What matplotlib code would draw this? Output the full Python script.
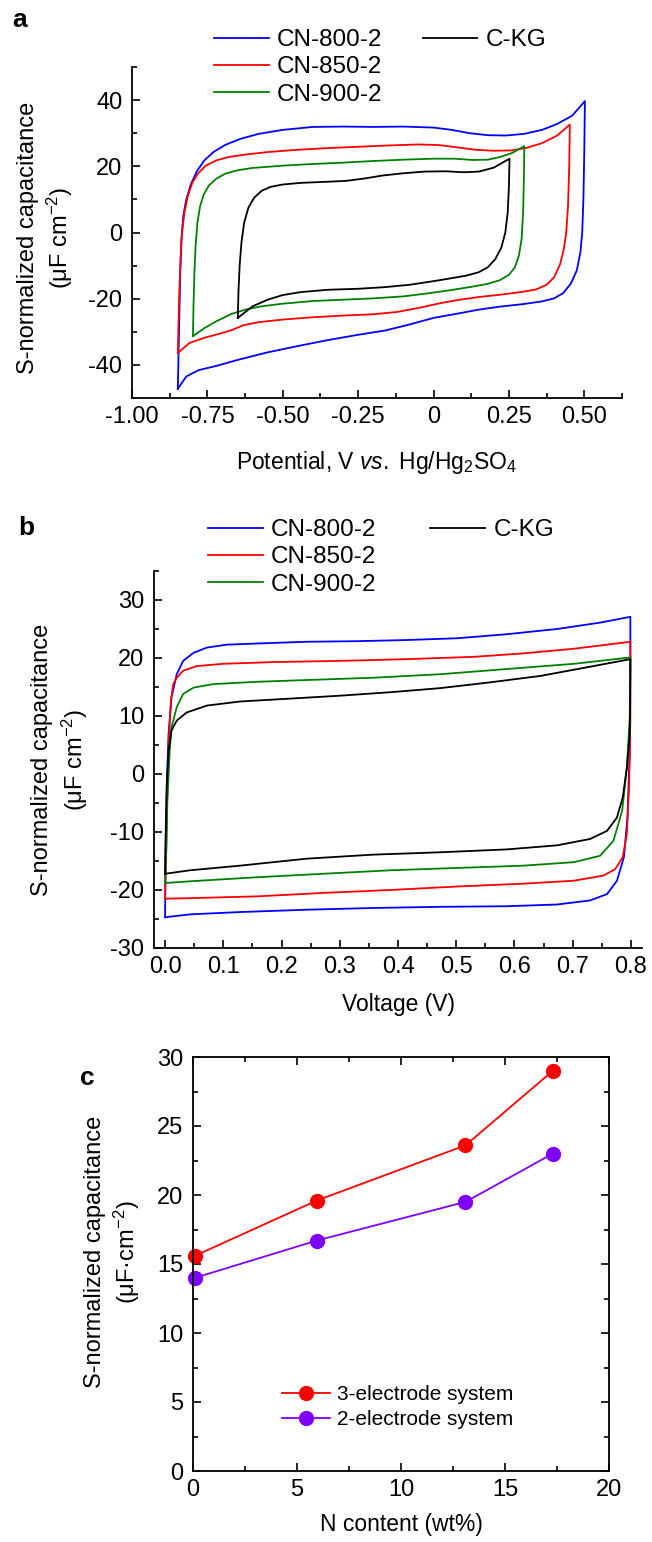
import numpy as np
import matplotlib
matplotlib.use("Agg")
import matplotlib.pyplot as plt
from matplotlib.lines import Line2D
from matplotlib.ticker import MultipleLocator, FixedLocator, FixedFormatter

plt.rcParams["font.family"] = ["Liberation Sans", "DejaVu Sans"]
plt.rcParams["mathtext.fontset"] = "custom"
plt.rcParams["mathtext.rm"] = "Liberation Sans"
plt.rcParams["mathtext.it"] = "Liberation Sans:italic"
plt.rcParams["axes.unicode_minus"] = False

# ---------------- panel a: CV, 3-electrode (V vs Hg/Hg2SO4) ----------------
a_blue_x = [-0.848, -0.846, -0.843, -0.840, -0.836, -0.830, -0.820, -0.805, -0.785, -0.760,
            -0.730, -0.690, -0.640, -0.580, -0.500, -0.400, -0.300, -0.200, -0.100, 0.000,
            0.060, 0.120, 0.180, 0.240, 0.300, 0.360, 0.410, 0.460, 0.502,
            0.500, 0.497, 0.493, 0.487, 0.475, 0.455, 0.430, 0.400, 0.360, 0.300, 0.220,
            0.150, 0.080, 0.000, -0.080, -0.160, -0.250, -0.350, -0.450, -0.550, -0.650,
            -0.720, -0.780, -0.820, -0.848]
a_blue_y = [-47.2, -38.0, -25.0, -12.0, -2.0, 5.0, 10.0, 14.5, 18.5, 21.8,
            24.3, 26.5, 28.3, 29.8, 31.0, 31.9, 32.0, 31.9, 32.0, 31.7,
            31.0, 30.0, 29.4, 29.3, 29.8, 31.0, 32.8, 35.3, 39.7,
            25.0, 10.0, 0.0, -6.0, -11.5, -15.5, -18.3, -19.9, -20.8, -21.6, -22.4,
            -23.3, -24.5, -25.8, -27.8, -29.6, -30.9, -32.5, -34.3, -36.2, -38.5,
            -40.3, -41.6, -43.5, -47.2]

a_red_x = [-0.848, -0.846, -0.843, -0.839, -0.834, -0.826, -0.815, -0.800, -0.780, -0.755,
           -0.720, -0.680, -0.620, -0.550, -0.450, -0.350, -0.250, -0.150, -0.050, 0.020,
           0.080, 0.140, 0.200, 0.260, 0.310, 0.360, 0.410, 0.452,
           0.450, 0.446, 0.440, 0.432, 0.420, 0.400, 0.375, 0.340, 0.290, 0.220, 0.150,
           0.080, 0.020, -0.050, -0.120, -0.200, -0.300, -0.400, -0.500, -0.580, -0.630,
           -0.670, -0.710, -0.760, -0.810, -0.848]
a_red_y = [-36.4, -28.0, -18.0, -8.0, 0.0, 6.0, 11.0, 15.0, 18.0, 20.2,
           21.8, 22.8, 23.6, 24.3, 25.0, 25.5, 25.9, 26.3, 26.6, 26.4,
           25.7, 25.0, 24.7, 24.8, 25.6, 27.0, 29.3, 32.6,
           20.0, 8.0, 0.0, -5.0, -9.5, -13.5, -15.8, -17.2, -18.0, -18.8, -19.5,
           -20.4, -21.4, -22.8, -24.0, -24.7, -25.1, -25.6, -26.3, -27.1, -28.0,
           -29.5, -30.6, -31.8, -33.4, -36.4]

a_green_x = [-0.798, -0.796, -0.793, -0.789, -0.783, -0.774, -0.762, -0.745, -0.720, -0.690,
             -0.650, -0.600, -0.500, -0.400, -0.300, -0.200, -0.100, 0.000, 0.070, 0.130,
             0.180, 0.220, 0.260, 0.301,
             0.300, 0.297, 0.292, 0.283, 0.270, 0.250, 0.220, 0.180, 0.120, 0.050, -0.020,
             -0.100, -0.200, -0.300, -0.400, -0.500, -0.570, -0.620, -0.670, -0.720, -0.760,
             -0.798]
a_green_y = [-31.3, -22.0, -12.0, -4.0, 3.0, 8.0, 11.5, 14.2, 16.3, 17.8,
             18.8, 19.5, 20.2, 20.7, 21.1, 21.6, 22.0, 22.3, 22.3, 21.9,
             22.0, 22.8, 24.0, 26.1,
             18.0, 6.0, -2.0, -7.0, -10.5, -12.8, -14.4, -15.5, -16.5, -17.5, -18.4,
             -19.3, -19.9, -20.3, -20.7, -21.5, -22.3, -23.2, -24.6, -26.8, -28.9,
             -31.3]

a_black_x = [-0.649, -0.647, -0.643, -0.637, -0.628, -0.614, -0.595, -0.570, -0.540, -0.500,
             -0.440, -0.360, -0.290, -0.230, -0.170, -0.100, -0.030, 0.040, 0.100, 0.150,
             0.200, 0.252,
             0.250, 0.246, 0.238, 0.225, 0.205, 0.180, 0.150, 0.110, 0.060, 0.000, -0.080,
             -0.160, -0.250, -0.350, -0.440, -0.500, -0.550, -0.600, -0.649]
a_black_y = [-25.8, -18.0, -10.0, -3.0, 3.0, 7.5, 10.5, 12.6, 13.8, 14.5,
             15.0, 15.3, 15.6, 16.3, 17.2, 17.9, 18.4, 18.5, 18.2, 18.4,
             19.6, 22.3,
             14.0, 6.0, 0.0, -4.5, -8.0, -10.5, -12.0, -13.0, -13.8, -14.7, -15.8,
             -16.5, -17.0, -17.3, -18.0, -18.9, -20.3, -22.3, -25.8]

# ---------------- panel b: CV, 2-electrode ----------------
b_blue_x = [0.000, 0.001, 0.003, 0.006, 0.011, 0.020, 0.031, 0.049, 0.072, 0.106, 0.158,
            0.243, 0.329, 0.415, 0.501, 0.587, 0.673, 0.747, 0.799,
            0.799, 0.798, 0.794, 0.788, 0.776, 0.759, 0.730, 0.673, 0.587, 0.472, 0.358,
            0.243, 0.129, 0.043, 0.000]
b_blue_y = [-24.7, -13.2, -1.7, 6.9, 13.2, 17.2, 19.5, 20.9, 21.8, 22.3, 22.5,
            22.8, 22.9, 23.1, 23.4, 24.1, 25.0, 26.1, 27.1,
            15.5, 4.0, -7.5, -14.3, -18.4, -20.7, -21.8, -22.5, -22.8, -22.9, -23.1,
            -23.4, -23.8, -24.2, -24.7]

b_red_x = [0.000, 0.002, 0.004, 0.007, 0.010, 0.014, 0.020, 0.031, 0.054, 0.100, 0.186,
           0.300, 0.415, 0.530, 0.616, 0.702, 0.759, 0.799,
           0.799, 0.797, 0.793, 0.786, 0.773, 0.753, 0.702, 0.616, 0.501, 0.387, 0.272,
           0.158, 0.043, 0.000]
b_red_y = [-21.5, -13.2, -1.7, 6.9, 12.6, 15.5, 16.6, 17.8, 18.6, 19.0, 19.3,
           19.5, 19.8, 20.2, 20.8, 21.6, 22.3, 22.8,
           9.8, -1.7, -10.3, -14.3, -16.4, -17.5, -18.4, -18.9, -19.4, -20.0, -20.5,
           -21.1, -21.4, -21.5]

b_green_x = [0.000, 0.002, 0.004, 0.008, 0.011, 0.020, 0.031, 0.049, 0.083, 0.158, 0.243,
             0.358, 0.472, 0.587, 0.702, 0.799,
             0.798, 0.793, 0.785, 0.770, 0.747, 0.702, 0.616, 0.501, 0.387, 0.272,
             0.158, 0.043, 0.000]
b_green_y = [-18.8, -13.2, -4.6, 4.0, 8.0, 11.5, 13.8, 14.9, 15.5, 15.9, 16.2,
             16.6, 17.2, 18.1, 19.0, 20.1,
             9.8, 1.1, -6.3, -11.5, -14.1, -15.2, -15.8, -16.2, -16.6, -17.2,
             -17.8, -18.5, -18.8]

b_black_x = [0.000, 0.001, 0.003, 0.006, 0.011, 0.020, 0.037, 0.072, 0.129, 0.215, 0.300,
             0.387, 0.472, 0.558, 0.644, 0.730, 0.799,
             0.798, 0.793, 0.786, 0.776, 0.759, 0.730, 0.673, 0.587, 0.472, 0.358,
             0.243, 0.129, 0.043, 0.000]
b_black_y = [-17.2, -10.3, -1.7, 4.0, 7.5, 9.2, 10.6, 11.8, 12.5, 13.0, 13.5,
             14.1, 14.8, 15.8, 16.9, 18.5, 19.8,
             6.9, 1.1, -4.0, -7.5, -9.8, -11.2, -12.3, -13.0, -13.5, -13.9,
             -14.6, -15.8, -16.6, -17.2]

# ---------------- panel c: capacitance vs N content ----------------
n_content = [0.1, 5.95, 13.1, 17.3]
cap_3e = [15.6, 19.6, 23.6, 29.0]
cap_2e = [14.0, 16.7, 19.5, 23.0]

series_names = ["CN-800-2", "CN-850-2", "CN-900-2", "C-KG"]
series_colors = ["#0000FF", "#FF0000", "#008000", "#000000"]

W, H = 652, 1542
fig = plt.figure(figsize=(W / 100, H / 100), dpi=100)


def px_rect(left, top, right, bottom):
    return [left / W, 1 - bottom / H, (right - left) / W, (bottom - top) / H]


FS = 17          # tick labels
FS_LAB = 16.5    # axis titles
FS_LEG = 17.5    # CV legends


def style(ax, mirror=False):
    for side in ["left", "bottom", "top", "right"]:
        ax.spines[side].set_linewidth(1.3)
    if not mirror:
        ax.spines["top"].set_visible(False)
        ax.spines["right"].set_visible(False)
    ax.tick_params(which="both", direction="in", labelsize=FS, width=1.2,
                   top=mirror, right=mirror)
    ax.tick_params(axis="y", pad=7)
    ax.tick_params(axis="x", pad=6)
    ax.tick_params(which="major", length=6)
    ax.tick_params(which="minor", length=3.5)


def cv_legend(lines, x, y, colsp):
    # first column: three CN samples, second column: C-KG
    blank = Line2D([], [], color="none")
    handles = [lines[0], lines[1], lines[2], lines[3], blank, blank]
    labels = [series_names[0], series_names[1], series_names[2], series_names[3], "", ""]
    fig.legend(handles, labels, ncol=2, frameon=False, fontsize=FS_LEG,
               loc="upper left", bbox_to_anchor=(x / W, 1 - y / H),
               borderpad=0, borderaxespad=0, handlelength=2.25, handletextpad=0.35,
               columnspacing=colsp, labelspacing=0.22)


ylab = "S-normalized capacitance"

# panel a
ax = fig.add_axes(px_rect(132, 67, 622, 398))
data_a = [(a_blue_x, a_blue_y), (a_red_x, a_red_y), (a_green_x, a_green_y), (a_black_x, a_black_y)]
lines = []
for (xs, ys), c, n in zip(data_a, series_colors, series_names):
    l, = ax.plot(xs, ys, color=c, lw=1.3, label=n)
    lines.append(l)
ax.set_xlim(-1.0, 0.625)
ax.set_ylim(-50, 50)
ax.xaxis.set_major_locator(FixedLocator([-1.0, -0.75, -0.5, -0.25, 0, 0.25, 0.5]))
ax.xaxis.set_major_formatter(FixedFormatter(["-1.00", "-0.75", "-0.50", "-0.25", "0", "0.25", "0.50"]))
ax.xaxis.set_minor_locator(MultipleLocator(0.125))
ax.yaxis.set_major_locator(FixedLocator([-40, -20, 0, 20, 40]))
ax.yaxis.set_minor_locator(MultipleLocator(10))
style(ax)
fig.text(377 / W, 1 - 463 / H, "Potential, V $\\it{vs.}$ Hg/Hg$_2$SO$_4$",
         ha="center", va="center", fontsize=FS_LAB)
fig.text(28 / W, 1 - 238 / H, ylab, rotation=90, ha="center", va="center", fontsize=FS)
fig.text(60 / W, 1 - 238 / H, "(\u03bcF cm$^{-2}$)", rotation=90, ha="center", va="center", fontsize=FS)
cv_legend(lines, 214, 29, 1.65)
fig.text(12 / W, 1 - 20 / H, "a", fontsize=19, fontweight="bold", va="center")

# panel b
ax = fig.add_axes(px_rect(154, 571, 642, 948))
data_b = [(b_blue_x, b_blue_y), (b_red_x, b_red_y), (b_green_x, b_green_y), (b_black_x, b_black_y)]
lines = []
for (xs, ys), c, n in zip(data_b, series_colors, series_names):
    l, = ax.plot(xs, ys, color=c, lw=1.3, label=n)
    lines.append(l)
ax.set_xlim(-0.019, 0.819)
ax.set_ylim(-30, 35)
ax.xaxis.set_major_locator(FixedLocator([0, 0.1, 0.2, 0.3, 0.4, 0.5, 0.6, 0.7, 0.8]))
ax.xaxis.set_major_formatter(FixedFormatter(["0.0", "0.1", "0.2", "0.3", "0.4", "0.5", "0.6", "0.7", "0.8"]))
ax.xaxis.set_minor_locator(MultipleLocator(0.05))
ax.yaxis.set_major_locator(FixedLocator([-30, -20, -10, 0, 10, 20, 30]))
ax.yaxis.set_minor_locator(MultipleLocator(5))
style(ax)
fig.text(398 / W, 1 - 1004 / H, "Voltage (V)", ha="center", va="center", fontsize=FS_LAB)
fig.text(42 / W, 1 - 760 / H, ylab, rotation=90, ha="center", va="center", fontsize=FS)
fig.text(75 / W, 1 - 760 / H, "(\u03bcF cm$^{-2}$)", rotation=90, ha="center", va="center", fontsize=FS)
cv_legend(lines, 208, 519, 2.2)
fig.text(18 / W, 1 - 528 / H, "b", fontsize=19, fontweight="bold", va="center")

# panel c
ax = fig.add_axes(px_rect(193, 1057, 609, 1471))
ax.plot(n_content, cap_3e, color="#FF0000", lw=1.3, marker="o", ms=10, label="3-electrode system")
ax.plot(n_content, cap_2e, color="#8000FF", lw=1.3, marker="o", ms=10, label="2-electrode system")
ax.set_xlim(0, 20)
ax.set_ylim(0, 30)
ax.xaxis.set_major_locator(MultipleLocator(5))
ax.xaxis.set_minor_locator(MultipleLocator(2.5))
ax.yaxis.set_major_locator(MultipleLocator(5))
ax.yaxis.set_minor_locator(MultipleLocator(2.5))
style(ax, mirror=True)
for l in ax.get_lines():
    l.set_clip_on(False)
fig.text(401 / W, 1 - 1525 / H, "N content (wt%)", ha="center", va="center", fontsize=FS_LAB)
fig.text(95 / W, 1 - 1252 / H, ylab, rotation=90, ha="center", va="center", fontsize=FS)
fig.text(127 / W, 1 - 1252 / H, "(\u03bcF\u00b7cm$^{-2}$)", rotation=90, ha="center", va="center", fontsize=FS)
ax.legend(frameon=False, fontsize=15, loc="upper left",
          bbox_to_anchor=((282 - 193) / 416, (1471 - 1385) / 414),
          borderpad=0, borderaxespad=0, handlelength=2.3, handletextpad=0.35, labelspacing=0.28)
fig.text(80 / W, 1 - 1078 / H, "c", fontsize=19, fontweight="bold", va="center")

fig.savefig("out.png", dpi=100)
